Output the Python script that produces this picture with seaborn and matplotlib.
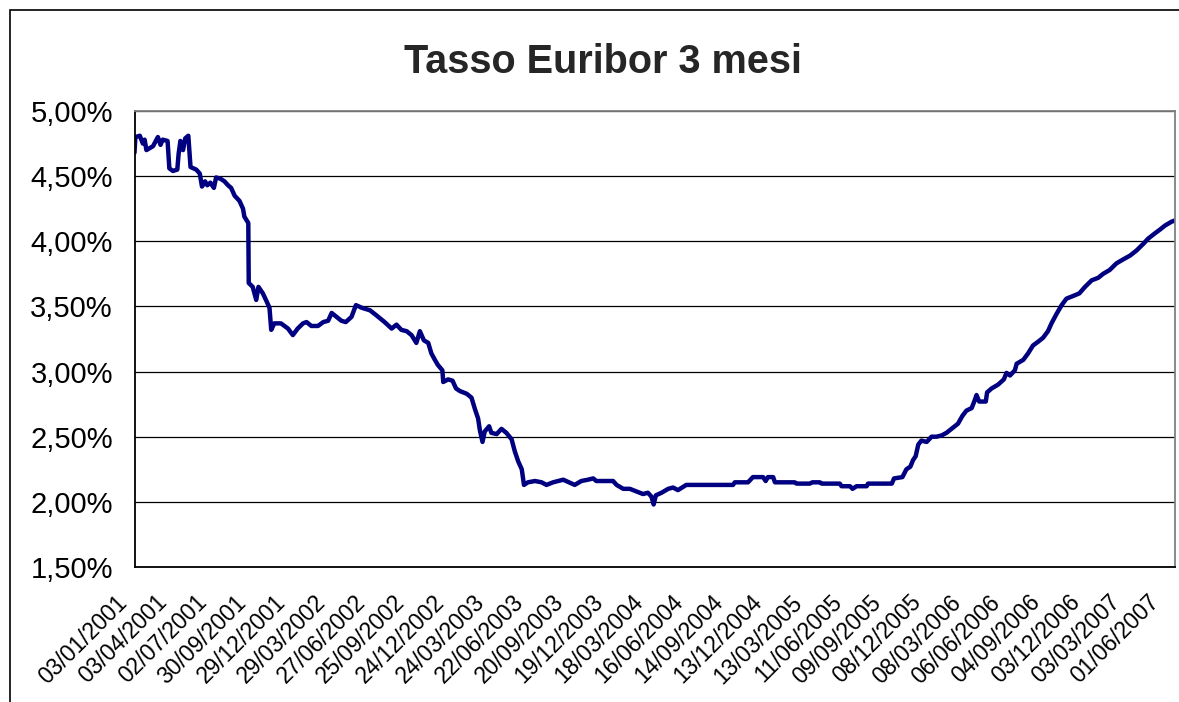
import matplotlib
matplotlib.use("Agg")
import matplotlib.pyplot as plt
import matplotlib.ticker as mticker
from matplotlib.patches import Rectangle
from matplotlib.transforms import ScaledTranslation
import pandas as pd
import seaborn as sns

# Euribor 3 mesi (percent)
dates = [
    "2001-01-03", "2001-01-05", "2001-01-15", "2001-01-22", "2001-01-26", "2001-01-30",
    "2001-02-14", "2001-02-25", "2001-03-03", "2001-03-08", "2001-03-19", "2001-03-23",
    "2001-03-31", "2001-04-10", "2001-04-13", "2001-04-17", "2001-04-23", "2001-04-28",
    "2001-05-05", "2001-05-10", "2001-05-23", "2001-05-31", "2001-06-05", "2001-06-12",
    "2001-06-17", "2001-06-24", "2001-07-02", "2001-07-07", "2001-07-17", "2001-07-26",
    "2001-08-03", "2001-08-10", "2001-08-18", "2001-08-29", "2001-09-06", "2001-09-09",
    "2001-09-18", "2001-09-19", "2001-09-28", "2001-10-06", "2001-10-11", "2001-10-21",
    "2001-10-28", "2001-11-05", "2001-11-09", "2001-11-16", "2001-12-01", "2001-12-17",
    "2001-12-28", "2002-01-08", "2002-01-20", "2002-01-28", "2002-02-08", "2002-02-23",
    "2002-03-07", "2002-03-18", "2002-03-26", "2002-04-06", "2002-04-17", "2002-04-27",
    "2002-05-10", "2002-05-20", "2002-06-02", "2002-06-21", "2002-07-06", "2002-07-24",
    "2002-08-09", "2002-08-20", "2002-08-31", "2002-09-12", "2002-09-23", "2002-10-04",
    "2002-10-12", "2002-10-21", "2002-10-31", "2002-11-07", "2002-11-15", "2002-11-22",
    "2002-12-02", "2002-12-04", "2002-12-15", "2002-12-25", "2003-01-02", "2003-01-11",
    "2003-01-26", "2003-02-06", "2003-02-14", "2003-02-21", "2003-02-25", "2003-03-03",
    "2003-03-08", "2003-03-18", "2003-03-23", "2003-04-04", "2003-04-15", "2003-04-26",
    "2003-05-08", "2003-05-15", "2003-05-23", "2003-05-31", "2003-06-05", "2003-06-14",
    "2003-06-30", "2003-07-15", "2003-07-26", "2003-08-10", "2003-09-02", "2003-09-15",
    "2003-09-28", "2003-10-13", "2003-10-28", "2003-11-09", "2003-11-16", "2003-12-24",
    "2004-01-01", "2004-01-16", "2004-01-31", "2004-02-15", "2004-03-01", "2004-03-12",
    "2004-03-20", "2004-03-25", "2004-03-30", "2004-04-12", "2004-04-27", "2004-05-08",
    "2004-05-19", "2004-06-07", "2004-09-21", "2004-09-25", "2004-10-25", "2004-11-05",
    "2004-11-28", "2004-12-04", "2004-12-09", "2004-12-21", "2004-12-25", "2005-02-08",
    "2005-02-12", "2005-03-14", "2005-03-20", "2005-04-06", "2005-04-10", "2005-05-21",
    "2005-05-25", "2005-06-13", "2005-06-19", "2005-06-28", "2005-07-21", "2005-07-24",
    "2005-09-16", "2005-09-21", "2005-10-10", "2005-10-19", "2005-10-28", "2005-11-03",
    "2005-11-09", "2005-11-15", "2005-11-22", "2005-12-04", "2005-12-15", "2005-12-26",
    "2006-01-07", "2006-01-18", "2006-01-29", "2006-02-13", "2006-02-23", "2006-03-04",
    "2006-03-16", "2006-03-23", "2006-03-27", "2006-04-02", "2006-04-17", "2006-04-20",
    "2006-04-30", "2006-05-15", "2006-05-28", "2006-06-03", "2006-06-11", "2006-06-22",
    "2006-06-26", "2006-07-11", "2006-07-22", "2006-08-02", "2006-08-14", "2006-08-25",
    "2006-09-05", "2006-09-13", "2006-09-24", "2006-10-06", "2006-10-17", "2006-11-01",
    "2006-11-15", "2006-11-28", "2006-12-13", "2006-12-28", "2007-01-08", "2007-01-23",
    "2007-02-07", "2007-02-22", "2007-03-10", "2007-03-25", "2007-04-09", "2007-04-20",
    "2007-05-05", "2007-05-17", "2007-05-28", "2007-06-12", "2007-06-20",
]
rates = [
    4.68, 4.80, 4.81, 4.75, 4.78, 4.70,
    4.73, 4.80, 4.74, 4.78, 4.77, 4.56,
    4.54, 4.55, 4.67, 4.77, 4.70, 4.79,
    4.81, 4.57, 4.55, 4.52, 4.42, 4.46,
    4.43, 4.45, 4.41, 4.49, 4.48, 4.46,
    4.43, 4.41, 4.35, 4.31, 4.25, 4.19,
    4.14, 3.68, 3.65, 3.55, 3.65, 3.60,
    3.55, 3.49, 3.32, 3.37, 3.37, 3.33,
    3.28, 3.33, 3.37, 3.38, 3.35, 3.35,
    3.38, 3.39, 3.45, 3.42, 3.39, 3.38,
    3.42, 3.51, 3.49, 3.47, 3.43, 3.38,
    3.33, 3.36, 3.32, 3.31, 3.28, 3.22,
    3.31, 3.24, 3.22, 3.14, 3.09, 3.05,
    3.01, 2.92, 2.94, 2.93, 2.87, 2.85,
    2.83, 2.80, 2.71, 2.64, 2.55, 2.46,
    2.54, 2.58, 2.53, 2.52, 2.56, 2.53,
    2.48, 2.39, 2.31, 2.25, 2.13, 2.15,
    2.16, 2.15, 2.13, 2.15, 2.17, 2.15,
    2.13, 2.16, 2.17, 2.18, 2.16, 2.16,
    2.13, 2.10, 2.10, 2.08, 2.06, 2.07,
    2.04, 1.98, 2.05, 2.07, 2.10, 2.11,
    2.09, 2.13, 2.13, 2.15, 2.15, 2.19,
    2.19, 2.16, 2.19, 2.19, 2.15, 2.15,
    2.14, 2.14, 2.15, 2.15, 2.14, 2.14,
    2.12, 2.12, 2.10, 2.12, 2.12, 2.14,
    2.14, 2.18, 2.19, 2.25, 2.27, 2.32,
    2.35, 2.44, 2.47, 2.46, 2.50, 2.50,
    2.51, 2.53, 2.56, 2.60, 2.66, 2.70,
    2.72, 2.78, 2.82, 2.77, 2.77, 2.84,
    2.87, 2.90, 2.94, 2.99, 2.97, 3.01,
    3.06, 3.09, 3.14, 3.20, 3.23, 3.26,
    3.31, 3.37, 3.44, 3.51, 3.56, 3.58,
    3.60, 3.65, 3.70, 3.72, 3.75, 3.78,
    3.83, 3.86, 3.89, 3.93, 3.98, 4.02,
    4.06, 4.09, 4.12, 4.15, 4.16,
]

# axis labels every 90 days, as in the original sheet
tick_dates = pd.date_range("2001-01-03", periods=27, freq="90D")
y_ticks = [1.5, 2.0, 2.5, 3.0, 3.5, 4.0, 4.5, 5.0]

df = pd.DataFrame({"data": pd.to_datetime(dates), "tasso": rates})

sns.set_style("white")
plt.rcParams["font.family"] = ["Liberation Sans", "DejaVu Sans"]

W, H = 1179, 702
fig = plt.figure(figsize=(W / 100, H / 100), dpi=100)

# chart area border (only top/left visible in the original crop)
fig.add_artist(Rectangle((10 / W, -0.1), 1.2, 1.1 - 10 / H, transform=fig.transFigure,
                         fill=False, edgecolor="black", linewidth=1.2))

ax = fig.add_axes([134.5 / W, 1 - 567 / H, (1175 - 134.5) / W, (567 - 111) / H])
sns.lineplot(data=df, x="data", y="tasso", ax=ax, color="#000080", linewidth=3.2,
             solid_joinstyle="round", solid_capstyle="round")

ax.set_xlim(df["data"].iloc[0], df["data"].iloc[-1])
ax.set_ylim(1.5, 5.0)
ax.set_yticks(y_ticks)
ax.yaxis.set_major_formatter(mticker.FuncFormatter(lambda v, _: f"{v:.2f}".replace(".", ",") + "%"))

ax.yaxis.grid(True, color="black", linewidth=0.9)
ax.set_axisbelow(True)
ax.set_xlabel("")
ax.set_ylabel("")

for side in ["left", "bottom"]:
    ax.spines[side].set_color("black")
    ax.spines[side].set_linewidth(1.3)
for side in ["top", "right"]:
    ax.spines[side].set_color("#808080")
    ax.spines[side].set_linewidth(1.3)

ax.tick_params(axis="both", direction="out", length=4.5, width=1, color="black",
               labelcolor="black")
ax.tick_params(axis="x", labelsize=16.5, pad=4)
ax.tick_params(axis="y", labelsize=21, pad=11)

# x labels set after tick_params so the offset is not reset
ax.set_xticks(tick_dates)
ax.set_xticklabels([d.strftime("%d/%m/%Y") for d in tick_dates], rotation=45,
                   ha="right", va="top", rotation_mode="anchor")
shift = ScaledTranslation(-0.19, -0.12, fig.dpi_scale_trans)
for lab in ax.get_xticklabels():
    lab.set_transform(lab.get_transform() + shift)

fig.text(603 / W, 1 - 62 / H, "Tasso Euribor 3 mesi", ha="center", va="center",
         fontsize=28.5, fontweight="bold")

fig.savefig("out.png", dpi=100)
